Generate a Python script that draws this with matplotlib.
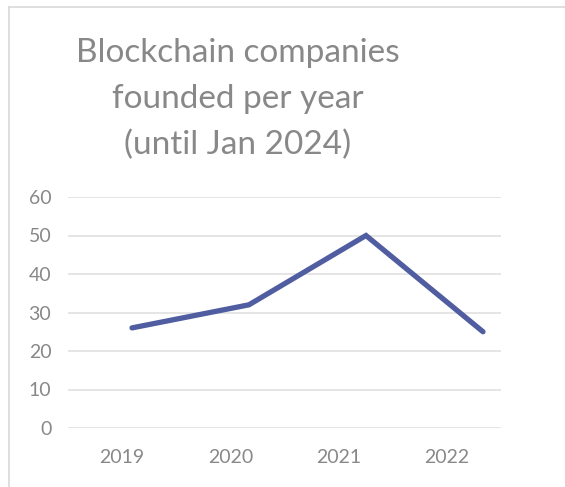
import matplotlib
matplotlib.use("Agg")
import matplotlib.pyplot as plt
from matplotlib.lines import Line2D

# Companies founded per year
years = ["2019", "2020", "2021", "2022"]
companies = [26, 32, 50, 25]
y_ticks = [0, 10, 20, 30, 40, 50, 60]

title_lines = ["Blockchain companies", "founded per year", "(until Jan 2024)"]

text_color = "#888888"
grid_color = "#e3e3e3"
line_color = "#505da0"

plt.rcParams["font.family"] = ["Lato", "DejaVu Sans"]

fig = plt.figure(figsize=(5.65, 4.87), dpi=100)
fig.patch.set_facecolor("white")

# chart area border (left and top edges visible)
fig.add_artist(Line2D([9 / 565, 9 / 565], [0, 1 - 7 / 487], color="#d9d9d9", lw=1.2))
fig.add_artist(Line2D([9 / 565, 1], [1 - 7 / 487, 1 - 7 / 487], color="#d9d9d9", lw=1.2))

rect = [68 / 565, 59 / 487, 433 / 565, 231 / 487]
ax = fig.add_axes(rect)
ax.set_ylim(0, 60)
ax.set_yticks(y_ticks)
ax.yaxis.grid(True, color=grid_color, lw=1.3)
ax.set_axisbelow(True)
for s in ax.spines.values():
    s.set_visible(False)
ax.tick_params(axis="y", length=0, pad=12, labelsize=14, labelcolor=text_color)
ax.set_xticks([])

# line series
x = list(range(len(years)))
ax.set_xlim(-0.547, 3.154)
ax.plot(x, companies, color=line_color, lw=3.8, solid_capstyle="round",
        solid_joinstyle="miter", zorder=3)

# category labels centred in their slots
ax2 = fig.add_axes(rect, frameon=False)
ax2.set_xlim(-0.5, len(years) - 0.5)
ax2.set_ylim(0, 60)
ax2.set_yticks([])
ax2.set_xticks(x)
ax2.set_xticklabels(years)
ax2.tick_params(axis="x", length=0, pad=15, labelsize=14, labelcolor=text_color)

# three-line title, one baseline per line
for i, line in enumerate(title_lines):
    fig.text(238 / 565, 1 - (62 + 46 * i) / 487, line, ha="center",
             va="baseline", fontsize=24, color=text_color)

fig.savefig("out.png", dpi=100)
